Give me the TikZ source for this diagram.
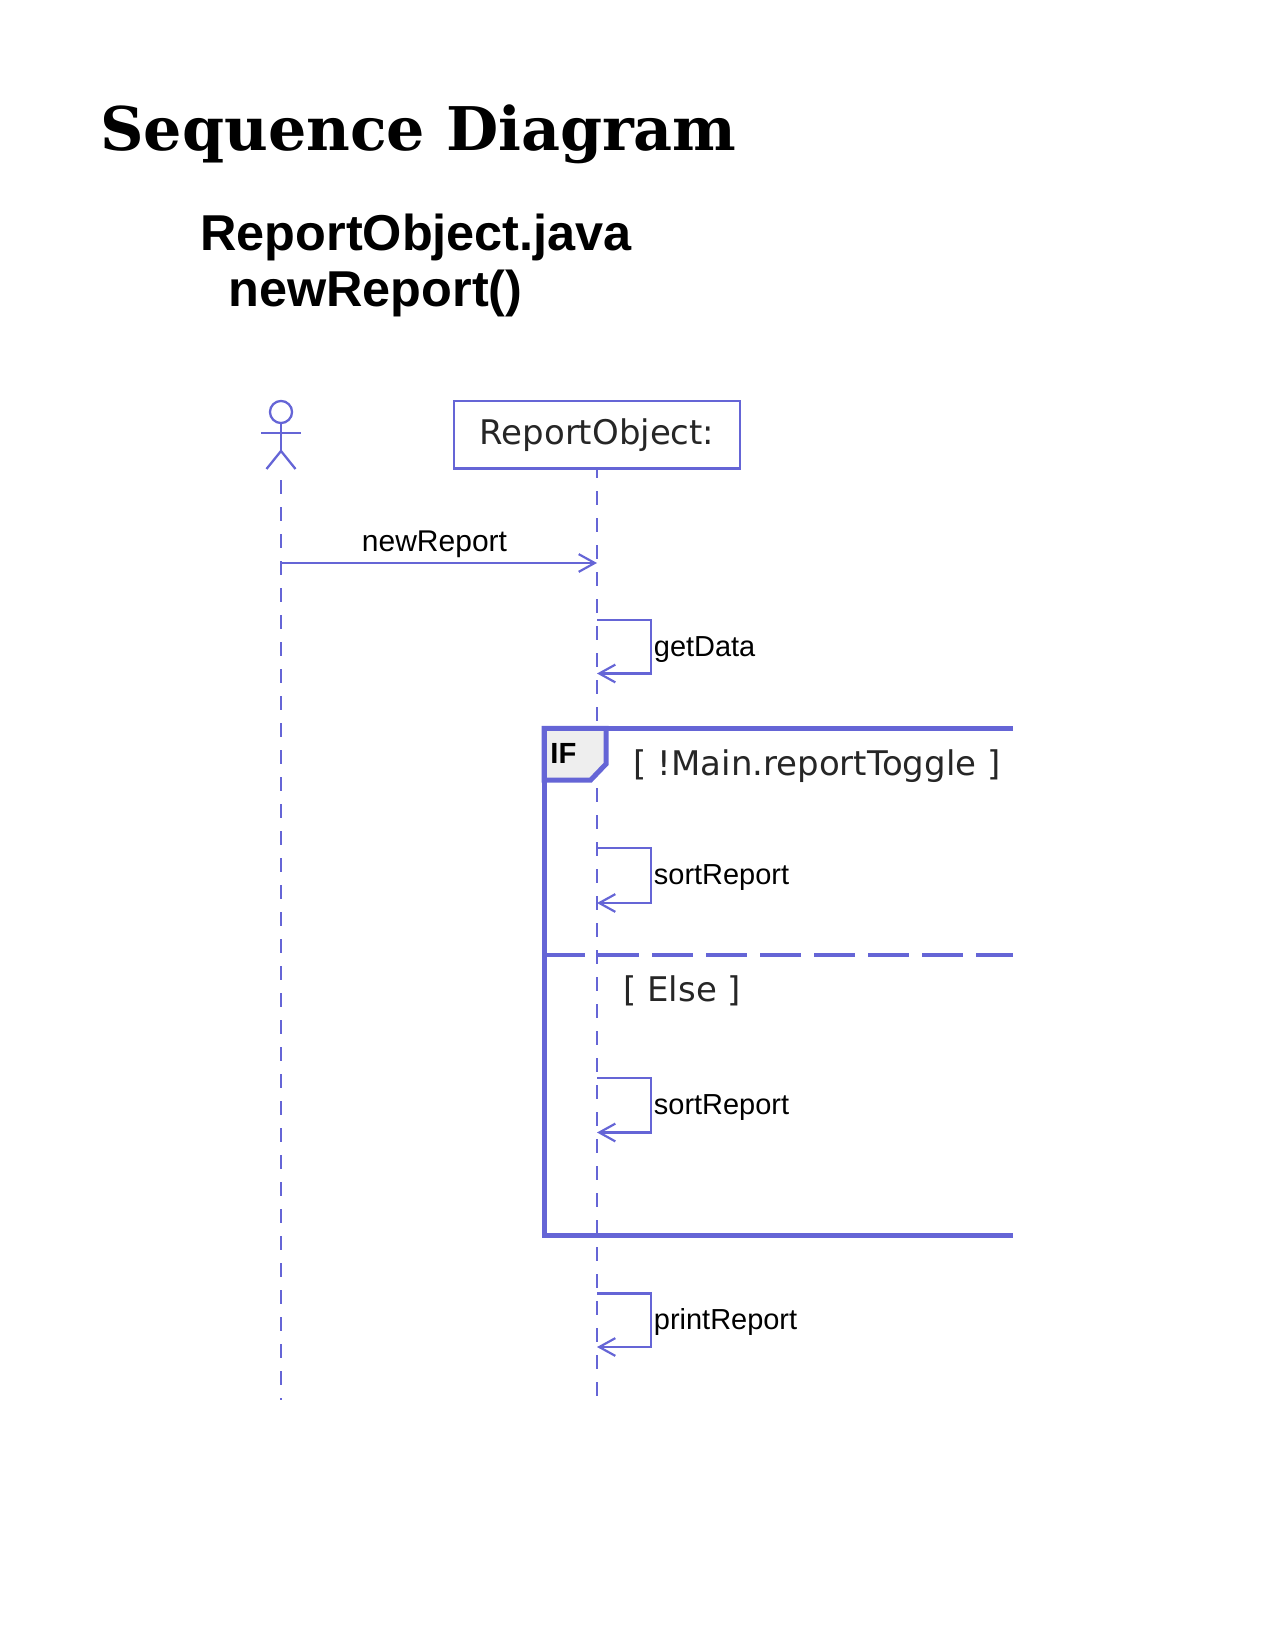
\documentclass[tikz,border=0pt]{standalone}
\usepackage{fontspec}
\usepackage{tikz}
\usetikzlibrary{arrows.meta, positioning}
\setmainfont{Liberation Sans}
\newfontfamily\titlefont{DejaVu Serif}
\newfontfamily\umlfont{DejaVu Sans}
\definecolor{umlblue}{HTML}{6565D6}
\definecolor{tabgray}{HTML}{EEEEEE}
\tikzset{
  lifeline/.style={draw=umlblue, line width=1.2pt, dash pattern=on 6.7pt off 6.26pt},
  message/.style={draw=umlblue, line width=1.05pt, -{Straight Barb[length=7.7pt, width=8.5pt]}},
  actorline/.style={draw=umlblue, line width=1.1pt},
  msglabel/.style={font=\fontsize{13.9}{17}\selectfont, inner sep=0pt},
  guardlabel/.style={font=\umlfont\fontsize{16.3}{19}\selectfont, inner sep=0pt, text=black!85},
  framebox/.style={draw=umlblue, line width=2.4pt},
  headline/.style={anchor=base west, inner sep=0pt, font=\bfseries\fontsize{24.2}{29}\selectfont}
}

\begin{document}
\begin{tikzpicture}[x=.48pt, y=-.48pt]
  \useasboundingbox (0, 0) rectangle (1275, 1650);

  \node[anchor=base west, inner sep=0pt, font=\titlefont\bfseries\fontsize{28.9}{35}\selectfont] (title) at (100, 151) {Sequence Diagram};
  \node[headline] (file) at (200, 251) {ReportObject.java};
  \node[headline] (method) at (228, 307) {newReport()};

  % actor
  \node[circle, actorline, minimum size=10.6pt, inner sep=0pt] (head) at (281, 412) {};
  \coordinate (hip) at (281, 451);
  \coordinate (armL) at (261, 433);
  \coordinate (armR) at (301, 433);
  \coordinate (legL) at (266.5, 469);
  \coordinate (legR) at (295.5, 469);
  \draw[actorline] (head) -- (hip);
  \draw[actorline] (armL) -- (armR);
  \draw[actorline] (legL) -- (hip) -- (legR);

  \node[draw=umlblue, line width=1.05pt, minimum width=137.3pt, minimum height=32.4pt, inner sep=0pt, font=\umlfont\fontsize{16.3}{20}\selectfont, text=black!85] (report) at (597, 434.7) {\raisebox{-.5pt}{ReportObject:}};

  % lifelines
  \coordinate (actorTop) at (281, 480);
  \coordinate (actorEnd) at (281, 1400);
  \coordinate (reportEnd) at (597, 1397);
  \draw[lifeline] (actorTop) -- (actorEnd);
  \draw[lifeline, dash phase=2.5pt] (report.south) -- (reportEnd);

  % frame
  \coordinate (frameTR) at (1013, 728.3);
  \coordinate (frameTL) at (544, 728.3);
  \coordinate (frameBL) at (544, 1235.8);
  \coordinate (frameBR) at (1013, 1235.8);
  \coordinate (tabR) at (606, 728.3);
  \coordinate (tabC) at (606, 764);
  \coordinate (tabD) at (590.7, 780);
  \coordinate (tabL) at (544, 780);
  \coordinate (splitL) at (544, 955);
  \coordinate (splitR) at (1013, 955);
  \draw[framebox, fill=tabgray] (frameTL) -- (tabR) -- (tabC) -- (tabD) -- (tabL) -- cycle;
  \draw[framebox] (frameTR) -- (frameTL) -- (frameBL) -- (frameBR);
  \draw[framebox, line width=2.2pt, dash pattern=on 19.5pt off 6.42pt] (splitL) -- (splitR);
  \node[anchor=base west, inner sep=0pt, font=\bfseries\fontsize{14}{17}\selectfont] (iftag) at (550, 763) {IF};
  \node[guardlabel, anchor=base west] (guardIf) at (633.5, 775) {[ !Main.reportToggle ]};
  \node[guardlabel, anchor=base west] (guardElse) at (623, 1001) {[ Else ]};

  % messages
  \coordinate (newFrom) at (281, 563);
  \coordinate (newTo) at (597, 563);
  \draw[message] (newFrom) -- (newTo);
  \node[msglabel, font=\fontsize{14.4}{17}\selectfont, anchor=base] (newLabel) at (434.5, 551.5) {newReport};

  \coordinate (dataTop) at (597, 620);
  \coordinate (dataTR) at (651, 620);
  \coordinate (dataBR) at (651, 673.5);
  \coordinate (dataEnd) at (597, 673.5);
  \draw[message] (dataTop) -- (dataTR) -- (dataBR) -- (dataEnd);
  \node[msglabel, anchor=base west] (dataLabel) at (653.5, 656) {getData};

  \coordinate (sortTop) at (597, 848);
  \coordinate (sortTR) at (651, 848);
  \coordinate (sortBR) at (651, 903);
  \coordinate (sortEnd) at (597, 903);
  \draw[message] (sortTop) -- (sortTR) -- (sortBR) -- (sortEnd);
  \node[msglabel, anchor=base west] (sortLabel) at (653.5, 884) {sortReport};

  \coordinate (elseTop) at (597, 1078);
  \coordinate (elseTR) at (651, 1078);
  \coordinate (elseBR) at (651, 1132.5);
  \coordinate (elseEnd) at (597, 1132.5);
  \draw[message] (elseTop) -- (elseTR) -- (elseBR) -- (elseEnd);
  \node[msglabel, anchor=base west] (elseLabel) at (653.5, 1114) {sortReport};

  \coordinate (printTop) at (597, 1293.5);
  \coordinate (printTR) at (651, 1293.5);
  \coordinate (printBR) at (651, 1347);
  \coordinate (printEnd) at (597, 1347);
  \draw[message] (printTop) -- (printTR) -- (printBR) -- (printEnd);
  \node[msglabel, anchor=base west] (printLabel) at (653.5, 1329.5) {printReport};
\end{tikzpicture}
\end{document}
